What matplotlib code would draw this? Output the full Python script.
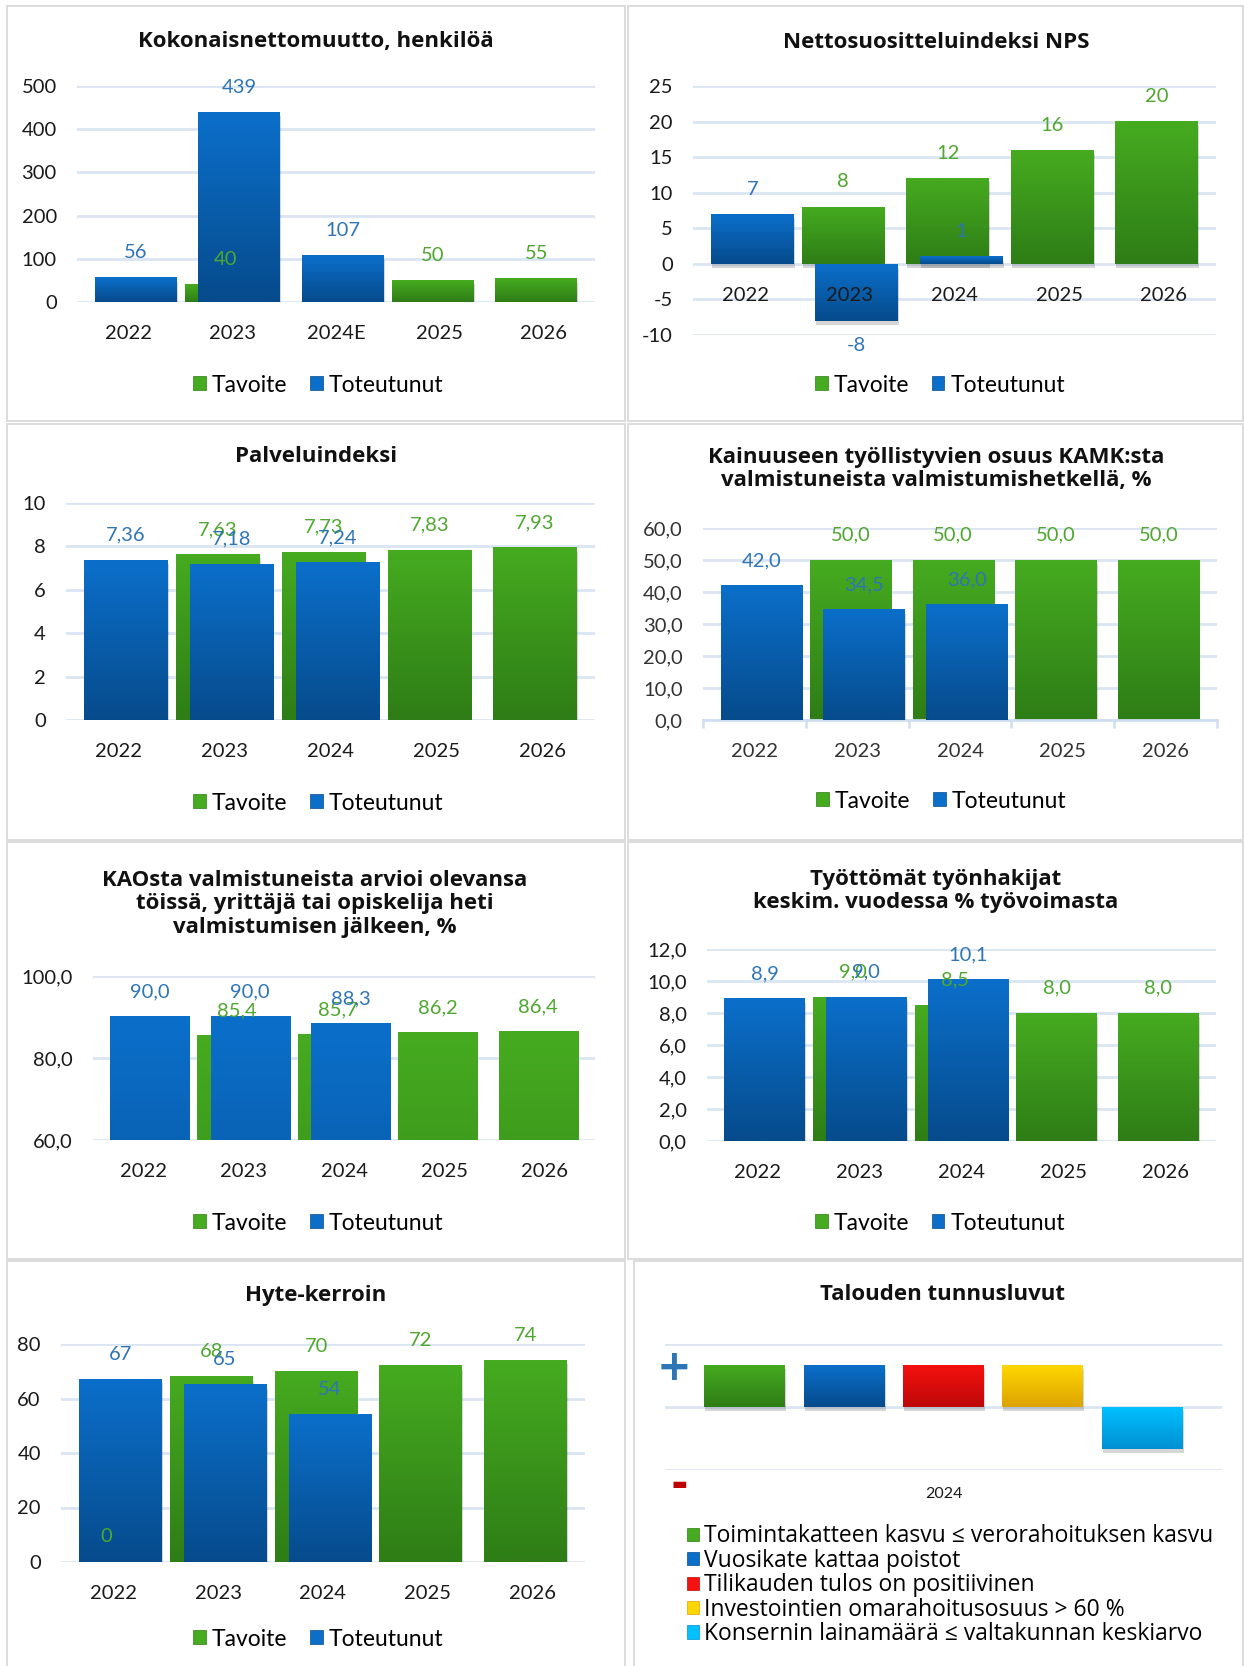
import numpy as np
import matplotlib
matplotlib.use('Agg')
import matplotlib.pyplot as plt
import matplotlib.colors as mcolors
from matplotlib import transforms
from matplotlib.patches import Rectangle, Patch

nan = np.nan

# --- data ---
years = ['2022', '2023', '2024', '2025', '2026']
years_e = ['2022', '2023', '2024E', '2025', '2026']

netto_tavoite = [nan, 40, nan, 50, 55]
netto_toteutunut = [56, 439, 107, nan, nan]

nps_tavoite = [nan, 8, 12, 16, 20]
nps_toteutunut = [7, -8, 1, nan, nan]

palvelu_tavoite = [nan, 7.63, 7.73, 7.83, 7.93]
palvelu_toteutunut = [7.36, 7.18, 7.24, nan, nan]

kamk_tavoite = [nan, 50.0, 50.0, 50.0, 50.0]
kamk_toteutunut = [42.0, 34.5, 36.0, nan, nan]

kao_tavoite = [nan, 85.4, 85.7, 86.2, 86.4]
kao_toteutunut = [90.0, 90.0, 88.3, nan, nan]

tyott_tavoite = [nan, 9.0, 8.5, 8.0, 8.0]
tyott_toteutunut = [8.9, 9.0, 10.1, nan, nan]

hyte_tavoite = [0, 68, 70, 72, 74]
hyte_toteutunut = [67, 65, 54, nan, nan]

talous_labels = ['Toimintakatteen kasvu ≤ verorahoituksen kasvu',
                 'Vuosikate kattaa poistot',
                 'Tilikauden tulos on positiivinen',
                 'Investointien omarahoitusosuus > 60 %',
                 'Konsernin lainamäärä ≤ valtakunnan keskiarvo']
talous_values = [1, 1, 1, 1, -1]
talous_year = '2024'

# --- style ---
W, H = 1244, 1666
GREEN = ('#46AB20', '#2E7D16')
BLUE = ('#0B6FCA', '#064B8C')
RED = ('#F5110F', '#BD0808')
YELLOW = ('#FFD700', '#DDA300')
CYAN = ('#00C0FF', '#0090D2')
GREEN_LBL = '#4EA72E'
BLUE_LBL = '#2E75B6'
GRID = '#DAE5F3'

plt.rcParams['font.family'] = ['Lato', 'DejaVu Sans']

fig = plt.figure(figsize=(W / 100, H / 100), dpi=100)


def px_axes(x0, y0, x1, y1):
    return fig.add_axes([x0 / W, 1 - y1 / H, (x1 - x0) / W, (y1 - y0) / H])


def grad_fill(ax, patch, cols, z):
    x0, y0 = patch.get_x(), patch.get_y()
    w, h = patch.get_width(), patch.get_height()
    if np.isnan(h) or h == 0:
        return
    lo, hi = min(y0, y0 + h), max(y0, y0 + h)
    c0 = np.array(mcolors.to_rgb(cols[0]))
    c1 = np.array(mcolors.to_rgb(cols[1]))
    t = np.linspace(0, 1, 80)[:, None]
    img = (c0 * (1 - t) + c1 * t)[:, None, :]
    ax.imshow(img, extent=(x0, x0 + w, lo, hi), aspect='auto', zorder=z + 0.1,
              interpolation='bilinear')
    sh = transforms.offset_copy(ax.transData, fig=fig, x=1, y=-4, units='dots')
    ax.add_patch(Rectangle((x0, lo), w, hi - lo, transform=sh, facecolor='black',
                           alpha=0.16, lw=0, zorder=z - 0.05))


def panel_box(x0, y0, x1, y1):
    fig.patches.append(Rectangle((x0 / W, 1 - y1 / H), (x1 - x0) / W, (y1 - y0) / H,
                                 transform=fig.transFigure, fill=False,
                                 edgecolor='#D9D9D9', lw=1.3))


def title(text, cx, cy):
    fig.text(cx / W, 1 - cy / H, text, ha='center', va='center', fontsize=16,
             fontweight='bold', family=['Open Sans', 'DejaVu Sans'], color='#111111',
             linespacing=1.15)


def legend2(cx, cy):
    handles = [Patch(facecolor=GREEN[0], edgecolor=GREEN[1], lw=0.5),
               Patch(facecolor=BLUE[0], edgecolor=BLUE[1], lw=0.5)]
    fig.legend(handles, ['Tavoite', 'Toteutunut'], loc='center',
               bbox_to_anchor=(cx / W, 1 - cy / H), ncol=2, frameon=False,
               fontsize=16.5, handlelength=0.55, handleheight=0.55, handletextpad=0.25,
               columnspacing=1.0, borderpad=0)


def bar_chart(rect, tav, tot, cats, ylim, yticks, fmt_tick, fmt_val, tcx, tcy, text,
              lcx, lcy, axis_line=False, tick_color='#1A1A1A'):
    ax = px_axes(*rect)
    x = np.arange(len(cats))
    bw, off = 0.79, 0.066
    gb = ax.bar(x - off, tav, width=bw, color=GREEN[0], zorder=2)
    bb = ax.bar(x + off, tot, width=bw, color=BLUE[0], zorder=3)
    for p in gb:
        grad_fill(ax, p, GREEN, 2)
    for p in bb:
        grad_fill(ax, p, BLUE, 3)
    for xi, v in zip(x, tav):
        if not np.isnan(v):
            ax.annotate(fmt_val(v), (xi - off, v), xytext=(0, 18 if v >= 0 else -18),
                        textcoords='offset points', ha='center', va='center',
                        fontsize=14.5, color=GREEN_LBL, zorder=6)
    for xi, v in zip(x, tot):
        if not np.isnan(v):
            ax.annotate(fmt_val(v), (xi + off, v), xytext=(0, 18 if v >= 0 else -18),
                        textcoords='offset points', ha='center', va='center',
                        fontsize=14.5, color=BLUE_LBL, zorder=6)
    cross = 0 if ylim[0] <= 0 else ylim[0]
    for xi, c in zip(x, cats):
        ax.annotate(c, (xi, cross), xytext=(0, -23), textcoords='offset points',
                    ha='center', va='center', fontsize=14.5, color=tick_color, zorder=7)
    ax.set_xlim(-0.5, len(cats) - 0.5)
    ax.set_ylim(*ylim)
    ax.set_yticks(yticks)
    ax.set_yticklabels([fmt_tick(t) for t in yticks], fontsize=14.5, color=tick_color)
    ax.tick_params(axis='y', length=0, pad=14.5)
    ax.grid(axis='y', color=GRID, lw=2)
    ax.set_axisbelow(True)
    for s in ax.spines.values():
        s.set_visible(False)
    if axis_line:
        ax.spines['bottom'].set_visible(True)
        ax.spines['bottom'].set_color('#D0DFF0')
        ax.spines['bottom'].set_linewidth(2)
        ax.set_xticks(np.arange(-0.5, len(cats), 1.0))
        ax.set_xticklabels([])
        ax.tick_params(axis='x', length=6, width=1.8, color='#D0DFF0', direction='out')
    else:
        ax.set_xticks([])
    ax.patch.set_alpha(0)
    title(text, tcx, tcy)
    legend2(lcx, lcy)
    return ax


def comma(d):
    return lambda v: f'{v:.{d}f}'.replace('.', ',')


# panel frames
panel_box(7, 6, 625, 421)
panel_box(628, 6, 1243, 421)
panel_box(7, 424, 625, 840)
panel_box(628, 424, 1243, 840)
panel_box(7, 842, 625, 1259)
panel_box(628, 842, 1243, 1259)
panel_box(7, 1261, 625, 1670)
panel_box(634, 1261, 1243, 1670)

bar_chart((77, 86, 595, 302), netto_tavoite, netto_toteutunut, years_e, (0, 500),
          np.arange(0, 501, 100), comma(0), comma(0), 316, 42,
          'Kokonaisnettomuutto, henkilöä', 318, 385)

bar_chart((693, 86, 1216, 335), nps_tavoite, nps_toteutunut, years, (-10, 25),
          np.arange(-10, 26, 5), comma(0), comma(0), 936, 42,
          'Nettosuositteluindeksi NPS', 940, 385)

bar_chart((66, 503, 595, 720), palvelu_tavoite, palvelu_toteutunut, years, (0, 10),
          np.arange(0, 11, 2), comma(0), comma(2), 316, 457,
          'Palveluindeksi', 318, 803)

bar_chart((703, 528, 1217, 720), kamk_tavoite, kamk_toteutunut, years, (0, 60),
          np.arange(0, 61, 10), comma(1), comma(1), 936, 469,
          'Kainuuseen työllistyvien osuus KAMK:sta\nvalmistuneista valmistumishetkellä, %',
          941, 801, axis_line=True, tick_color='#333333')

bar_chart((93, 976, 595, 1140), kao_tavoite, kao_toteutunut, years, (60, 100),
          np.arange(60, 101, 20), comma(1), comma(1), 315, 904,
          'KAOsta valmistuneista arvioi olevansa\ntöissä, yrittäjä tai opiskelija heti\n'
          'valmistumisen jälkeen, %', 318, 1223)

bar_chart((707, 949, 1216, 1141), tyott_tavoite, tyott_toteutunut, years, (0, 12),
          np.arange(0, 13, 2), comma(1), comma(1), 936, 891,
          'Työttömät työnhakijat\nkeskim. vuodessa % työvoimasta', 940, 1223)

bar_chart((61, 1344, 585, 1562), hyte_tavoite, hyte_toteutunut, years, (0, 80),
          np.arange(0, 81, 20), comma(0), comma(0), 316, 1295,
          'Hyte-kerroin', 318, 1639)

# --- Talouden tunnusluvut ---
ax = px_axes(664.6, 1344, 1221.7, 1470)
tx = np.arange(len(talous_values))
tcols = [GREEN, BLUE, RED, YELLOW, CYAN]
tb = ax.bar(tx, talous_values, width=0.815, color=[c[0] for c in tcols], zorder=2)
for p, c in zip(tb, tcols):
    grad_fill(ax, p, c, 2)
ax.set_xlim(-0.807, 4.8)
ax.set_ylim(-1.5, 1.5)
ax.set_yticks([-1.5, 0, 1.5])
ax.set_yticklabels([])
ax.tick_params(axis='y', length=0)
ax.set_xticks([])
ax.grid(axis='y', color=GRID, lw=2)
ax.set_axisbelow(True)
for s in ax.spines.values():
    s.set_visible(False)
ax.patch.set_alpha(0)
ax.annotate(talous_year, (2, -1.5), xytext=(0, -17), textcoords='offset points',
            ha='center', va='center', fontsize=11.5, color='#1A1A1A')
fig.text(674 / W, 1 - 1368 / H, '+', ha='center', va='center', fontsize=30,
         fontweight='heavy', color='#2E75B6', family=['DejaVu Sans'])
fig.text(679 / W, 1 - 1484 / H, '▬', ha='center', va='center', fontsize=12,
         color='#C00000', family=['DejaVu Sans'])
title('Talouden tunnusluvut', 943, 1295)
th = [Patch(facecolor=c[0], edgecolor=c[1], lw=0.5) for c in tcols]
fig.legend(th, talous_labels, loc='upper left', bbox_to_anchor=(676 / W, 1 - 1513 / H),
           frameon=False, handlelength=0.52, handleheight=0.52,
           handletextpad=0.22, labelspacing=0.02, borderpad=0,
           prop={'family': ['Open Sans', 'DejaVu Sans'], 'size': 16.5})

fig.savefig('out.png', dpi=100)
